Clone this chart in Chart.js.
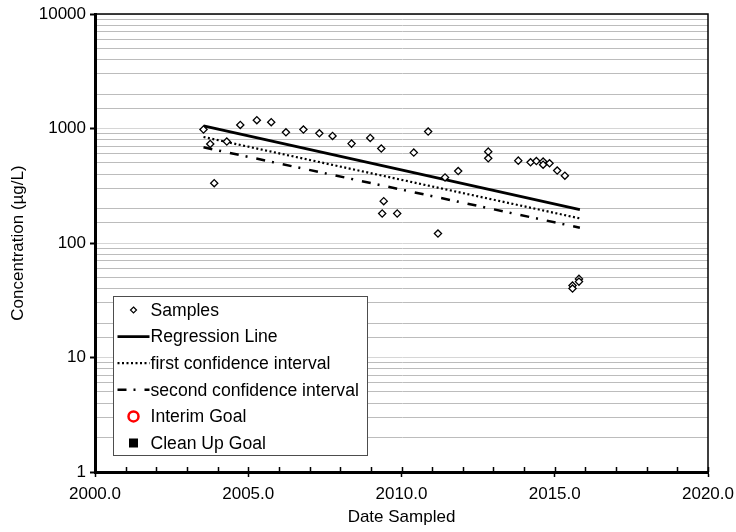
<!DOCTYPE html>
<html>
<head>
<meta charset="utf-8">
<title>Concentration Trend</title>
<script src="https://cdn.jsdelivr.net/npm/chart.js@4.4.0/dist/chart.umd.min.js"></script>
<style>
  html, body { margin: 0; padding: 0; background: #fff; }
  #wrap { width: 736px; height: 532px; }
</style>
</head>
<body>
<div id="wrap"><canvas id="trendChart" width="736" height="532"></canvas></div>
<script>
// Sample dates (decimal year) and measured concentrations (ug/L)
const sampleDates = [2003.54, 2003.76, 2003.89, 2004.30, 2004.74, 2005.28, 2005.75, 2006.23,
  2006.80, 2007.32, 2007.75, 2008.37, 2008.98, 2009.34, 2009.42, 2009.37, 2009.86, 2010.40,
  2010.87, 2011.19, 2011.42, 2011.85, 2012.83, 2012.83, 2013.81, 2014.21, 2014.40, 2014.62,
  2014.62, 2014.83, 2015.08, 2015.33, 2015.58, 2015.58, 2015.79, 2015.79];
const sampleConc = [980, 733, 333, 769, 1074, 1181, 1135, 927,
  979, 908, 861, 738, 827, 668, 232, 181, 181, 616,
  940, 121, 374, 425, 628, 549, 524, 507, 520, 514,
  483, 497, 429, 387, 42.5, 40, 48.6, 46];

// Regression line and confidence bounds at the first and last sample date
const fitDates = [2003.54, 2015.82];
const regressionConc = [1052, 196];
const firstCIConc = [843, 164];
const secondCIConc = [685, 136];

// Axis ranges
const xRange = [2000, 2020];
const yRange = [1, 10000];

function toPoints(xs, ys) {
  return xs.map((x, i) => ({ x: x, y: ys[i] }));
}

function isDecade(v) {
  const l = Math.log10(v);
  return Math.abs(l - Math.round(l)) < 1e-9;
}

// Legend box drawn inside the plot area, lower left
const insideLegend = {
  id: 'insideLegend',
  afterDatasetsDraw(chart) {
    const { ctx, chartArea } = chart;
    const x0 = Math.round(chartArea.left + 18) + 0.5;
    const y0 = Math.round(chartArea.top + 282) + 0.5;
    const w = 254, h = 159;
    ctx.save();
    ctx.fillStyle = '#fff';
    ctx.fillRect(x0, y0, w, h);
    ctx.strokeStyle = '#4d4d4d';
    ctx.lineWidth = 1;
    ctx.strokeRect(x0, y0, w, h);

    chart.data.datasets.forEach((ds, i) => {
      const cy = y0 + 13.5 + i * 26.6;
      const sx = x0 + 4, ex = x0 + 36, mx = x0 + 20;
      ctx.setLineDash([]);
      if (ds.showLine) {
        ctx.beginPath();
        ctx.setLineDash(ds.borderDash || []);
        ctx.lineWidth = ds.borderWidth;
        ctx.strokeStyle = ds.borderColor;
        ctx.moveTo(sx, cy);
        ctx.lineTo(ex, cy);
        ctx.stroke();
        ctx.setLineDash([]);
      } else if (ds.pointStyle === 'rectRot') {
        const r = 3;
        ctx.beginPath();
        ctx.moveTo(mx, cy - r); ctx.lineTo(mx + r, cy); ctx.lineTo(mx, cy + r); ctx.lineTo(mx - r, cy);
        ctx.closePath();
        ctx.fillStyle = ds.pointBackgroundColor;
        ctx.fill();
        ctx.lineWidth = 1.2;
        ctx.strokeStyle = ds.pointBorderColor;
        ctx.stroke();
      } else if (ds.pointStyle === 'circle') {
        ctx.beginPath();
        ctx.arc(mx, cy, 5, 0, Math.PI * 2);
        ctx.lineWidth = 2.5;
        ctx.strokeStyle = ds.pointBorderColor;
        ctx.stroke();
      } else if (ds.pointStyle === 'rect') {
        ctx.fillStyle = ds.pointBackgroundColor;
        ctx.fillRect(mx - 4.5, cy - 4.5, 9, 9);
      }
      ctx.fillStyle = '#000';
      ctx.font = '17.6px "Liberation Sans", Arial, sans-serif';
      ctx.textBaseline = 'middle';
      ctx.textAlign = 'left';
      ctx.fillText(ds.label, x0 + 37, cy + 1);
    });
    ctx.restore();
  }
};

// Top/right frame and the short yearly ticks on the date axis
const frameAndMinorTicks = {
  id: 'frameAndMinorTicks',
  afterDatasetsDraw(chart) {
    const { ctx, chartArea, scales } = chart;
    ctx.save();
    ctx.strokeStyle = '#000';
    ctx.lineWidth = 1.5;
    ctx.beginPath();
    ctx.moveTo(chartArea.left, chartArea.top);
    ctx.lineTo(chartArea.right, chartArea.top);
    ctx.lineTo(chartArea.right, chartArea.bottom);
    ctx.stroke();
    ctx.lineWidth = 1.5;
    ctx.beginPath();
    for (let yr = xRange[0]; yr <= xRange[1]; yr++) {
      const px = Math.round(scales.x.getPixelForValue(yr)) + 0.5;
      ctx.moveTo(px, chartArea.bottom);
      ctx.lineTo(px, chartArea.bottom - 5);
    }
    ctx.stroke();
    ctx.restore();
  }
};

Chart.defaults.font.family = '"Liberation Sans", Arial, sans-serif';
Chart.defaults.font.size = 17;
Chart.defaults.color = '#000';

const ctx = document.getElementById('trendChart').getContext('2d');
const trendChart = new Chart(ctx, {
  type: 'scatter',
  data: {
    datasets: [
      {
        label: 'Samples',
        data: toPoints(sampleDates, sampleConc),
        pointStyle: 'rectRot',
        pointRadius: 3.6,
        pointBorderWidth: 1.3,
        pointBorderColor: '#000',
        pointBackgroundColor: '#fff',
        showLine: false
      },
      {
        label: 'Regression Line',
        data: toPoints(fitDates, regressionConc),
        showLine: true,
        borderColor: '#000',
        borderWidth: 2.8,
        pointRadius: 0
      },
      {
        label: 'first confidence interval',
        data: toPoints(fitDates, firstCIConc),
        showLine: true,
        borderColor: '#000',
        borderWidth: 2.2,
        borderDash: [2, 2.5],
        pointRadius: 0
      },
      {
        label: 'second confidence interval',
        data: toPoints(fitDates, secondCIConc),
        showLine: true,
        borderColor: '#000',
        borderWidth: 2.5,
        borderDash: [9, 7, 2, 9],
        pointRadius: 0
      },
      {
        label: 'Interim Goal',
        data: [],
        pointStyle: 'circle',
        pointBorderColor: '#ff0000',
        pointBackgroundColor: '#fff',
        showLine: false
      },
      {
        label: 'Clean Up Goal',
        data: [],
        pointStyle: 'rect',
        pointBorderColor: '#000',
        pointBackgroundColor: '#000',
        showLine: false
      }
    ]
  },
  options: {
    responsive: false,
    animation: false,
    layout: { padding: { top: 14, right: 28, left: 0, bottom: 0 } },
    plugins: {
      legend: { display: false },
      tooltip: { enabled: false }
    },
    scales: {
      x: {
        type: 'linear',
        min: xRange[0],
        max: xRange[1],
        afterFit: (scale) => {
          scale.height = 60;
          scale.paddingLeft = 0;
          scale.paddingRight = 0;
        },
        ticks: {
          stepSize: 5,
          padding: 7,
          callback: (v) => Number(v).toFixed(1)
        },
        grid: {
          drawOnChartArea: false,
          drawTicks: true,
          tickLength: 5,
          tickColor: '#000',
          tickWidth: 1.5
        },
        border: { color: '#000', width: 3 },
        title: {
          display: true,
          text: 'Date Sampled',
          padding: { top: 0, bottom: 4 }
        }
      },
      y: {
        type: 'logarithmic',
        min: yRange[0],
        max: yRange[1],
        afterFit: (scale) => {
          scale.width = 95;
          scale.paddingTop = 0;
          scale.paddingBottom = 0;
        },
        ticks: {
          autoSkip: false,
          padding: 4,
          callback: (v) => isDecade(v) ? String(Math.round(v)) : ''
        },
        grid: {
          color: (c) => isDecade(c.tick.value) ? '#d6d6d6' : '#bcbcbc',
          lineWidth: 1,
          tickLength: 5,
          tickWidth: 2,
          tickColor: (c) => isDecade(c.tick.value) ? '#000' : 'rgba(0,0,0,0)'
        },
        border: { color: '#000', width: 3 },
        title: {
          display: true,
          text: 'Concentration (µg/L)',
          padding: { top: 8, bottom: 0 }
        }
      }
    }
  },
  plugins: [insideLegend, frameAndMinorTicks]
});
</script>
</body>
</html>
